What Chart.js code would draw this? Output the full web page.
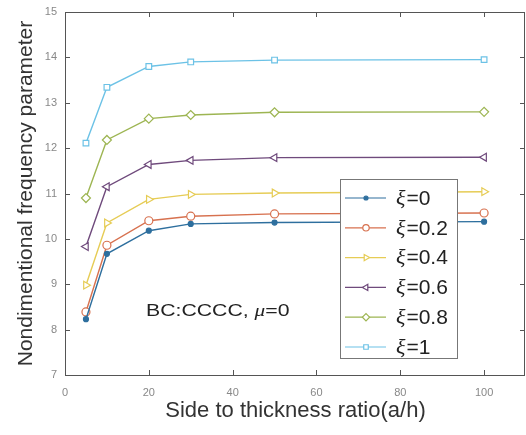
<!DOCTYPE html>
<html>
<head>
<meta charset="utf-8">
<script src="https://cdn.jsdelivr.net/npm/chart.js@4/dist/chart.umd.min.js"></script>
<style>
  body { margin: 0; background: #fff; }
  #wrap { width: 526px; height: 435px; position: relative; }
</style>
</head>
<body>
<div id="wrap"><canvas id="freqChart"></canvas></div>
<script>
// side to thickness ratio a/h
const ratios = [5, 10, 20, 30, 50, 100];

const xi_0 = [8.23, 9.67, 10.18, 10.33, 10.36, 10.38];
const xi_02 = [8.39, 9.86, 10.40, 10.50, 10.55, 10.57];
const xi_04 = [8.98, 10.35, 10.87, 10.98, 11.01, 11.04];
const xi_06 = [9.83, 11.15, 11.64, 11.73, 11.79, 11.80];
const xi_08 = [10.90, 12.18, 12.65, 12.73, 12.79, 12.80];
const xi_1 = [12.11, 13.34, 13.80, 13.90, 13.94, 13.95];

const seriesLabels = ['0', '0.2', '0.4', '0.6', '0.8', '1'];
const xTicks = [0, 20, 40, 60, 80, 100];
const yTicks = [7, 8, 9, 10, 11, 12, 13, 14, 15];

const styles = [
  { color: '#2e6f9e', fill: '#2e6f9e', point: 'circle', rot: 0, r: 2.5 },
  { color: '#d7714f', fill: '#fff', point: 'circle', rot: 0, r: 4 },
  { color: '#e6cc55', fill: '#fff', point: 'triangle', rot: 90, r: 4.5 },
  { color: '#6f4a7c', fill: '#fff', point: 'triangle', rot: -90, r: 4.5 },
  { color: '#9db552', fill: '#fff', point: 'rectRot', rot: 0, r: 4.5 },
  { color: '#6cc2e6', fill: '#fff', point: 'rect', rot: 0, r: 4 }
];

const allSeries = [xi_0, xi_02, xi_04, xi_06, xi_08, xi_1];

const datasets = allSeries.map((vals, i) => ({
  label: 'ξ=' + seriesLabels[i],
  data: vals.map((v, j) => ({ x: ratios[j], y: v })),
  borderColor: styles[i].color,
  backgroundColor: styles[i].fill,
  pointBorderColor: styles[i].color,
  pointBackgroundColor: styles[i].fill,
  pointStyle: styles[i].point,
  pointRotation: styles[i].rot,
  pointRadius: styles[i].r,
  pointBorderWidth: 1.2,
  borderWidth: 1.4,
  tension: 0
}));

// box, inward ticks, legend and the text note
const decorPlugin = {
  id: 'decor',
  afterDraw(chart) {
    const ctx = chart.ctx;
    const a = chart.chartArea;
    const xs = chart.scales.x, ys = chart.scales.y;
    ctx.save();
    ctx.strokeStyle = '#555';
    ctx.lineWidth = 1;
    ctx.strokeRect(a.left + 0.5, a.top + 0.5, a.right - a.left - 2, a.bottom - a.top);
    ctx.beginPath();
    xTicks.forEach(t => {
      const px = Math.round(xs.getPixelForValue(t)) + 0.5;
      ctx.moveTo(px, a.bottom); ctx.lineTo(px, a.bottom - 5);
      ctx.moveTo(px, a.top); ctx.lineTo(px, a.top + 5);
    });
    yTicks.forEach(t => {
      const py = Math.round(ys.getPixelForValue(t)) + 0.5;
      ctx.moveTo(a.left, py); ctx.lineTo(a.left + 5, py);
      ctx.moveTo(a.right - 1, py); ctx.lineTo(a.right - 6, py);
    });
    ctx.stroke();

    // text note
    ctx.fillStyle = '#222';
    ctx.textBaseline = 'alphabetic';
    ctx.translate(a.left + 81, a.top + 304);
    ctx.scale(1.25, 1);
    ctx.font = '17px "Liberation Sans", Arial, sans-serif';
    let t1 = 'BC:CCCC, ';
    ctx.fillText(t1, 0, 0);
    let w = ctx.measureText(t1).width;
    ctx.font = 'italic 17px "Liberation Serif", serif';
    ctx.fillText('μ', w, 0);
    w += ctx.measureText('μ').width;
    ctx.font = '17px "Liberation Sans", Arial, sans-serif';
    ctx.fillText('=0', w, 0);
    ctx.restore();

    // legend
    ctx.save();
    const bx = a.left + 275, by = a.top + 167, bw = 117, bh = 179;
    ctx.fillStyle = '#fff';
    ctx.fillRect(bx, by, bw, bh);
    ctx.strokeStyle = '#777';
    ctx.lineWidth = 1;
    ctx.strokeRect(bx + 0.5, by + 0.5, bw, bh);
    chart.data.datasets.forEach((ds, i) => {
      const y = by + 19 + i * 29.8;
      ctx.strokeStyle = ds.borderColor;
      ctx.lineWidth = 1.2;
      ctx.beginPath();
      ctx.moveTo(bx + 5, y); ctx.lineTo(bx + 46, y);
      ctx.stroke();
      ctx.fillStyle = ds.pointBackgroundColor;
      Chart.helpers.drawPoint(ctx, {
        pointStyle: ds.pointStyle, rotation: ds.pointRotation,
        radius: ds.pointRadius * 0.8, borderWidth: 1
      }, bx + 26, y);
      ctx.fillStyle = '#222';
      ctx.textBaseline = 'middle';
      ctx.font = 'italic 22px "Liberation Serif", serif';
      ctx.fillText('ξ', bx + 56, y + 1);
      const wx = ctx.measureText('ξ').width;
      ctx.font = '21px "Liberation Sans", Arial, sans-serif';
      ctx.fillText('=' + seriesLabels[i], bx + 57 + wx, y + 1);
    });
    ctx.restore();
  }
};

new Chart(document.getElementById('freqChart'), {
  type: 'line',
  data: { datasets },
  options: {
    responsive: true,
    maintainAspectRatio: false,
    animation: false,
    layout: { autoPadding: false, padding: { top: 12, right: 0, left: 0, bottom: 0 } },
    plugins: { legend: { display: false }, tooltip: { enabled: false } },
    scales: {
      x: {
        type: 'linear', min: 0, max: 110,
        afterBuildTicks: s => { s.ticks = xTicks.map(v => ({ value: v })); },
        afterFit: s => { s.height = 60; s.paddingLeft = 0; s.paddingRight = 0; },
        grid: { display: false, drawTicks: false },
        border: { display: false },
        ticks: { color: '#888', font: { size: 11 }, padding: 11 },
        title: {
          display: true, text: 'Side to thickness ratio(a/h)', color: '#333',
          font: { size: 22, family: '"Liberation Sans", Arial, sans-serif' },
          padding: { top: 0, bottom: 11 }
        }
      },
      y: {
        min: 7, max: 15,
        afterBuildTicks: s => { s.ticks = yTicks.map(v => ({ value: v })); },
        afterFit: s => { s.width = 65; s.paddingTop = 0; s.paddingBottom = 0; },
        grid: { display: false, drawTicks: false },
        border: { display: false },
        ticks: { color: '#888', font: { size: 11 }, padding: 8 },
        title: {
          display: true, text: 'Nondimentional frequency parameter', color: '#333',
          font: { size: 21, family: '"Liberation Sans", Arial, sans-serif' },
          padding: { top: 14, bottom: 0 }
        }
      }
    }
  },
  plugins: [decorPlugin]
});
</script>
</body>
</html>
